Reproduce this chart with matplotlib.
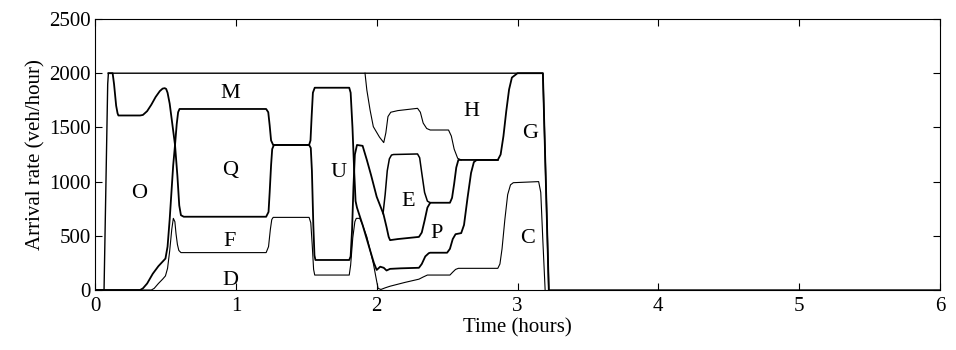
import numpy as np
import matplotlib
matplotlib.use("Agg")
from matplotlib import pyplot as plt

plt.rcParams['font.family'] = ['Liberation Serif', 'DejaVu Serif']

# boundary curves of the arrival rate plot (time in hours, rate in veh/hour)
t_total = [0, 0.064, 0.09, 0.095, 3.18, 3.222, 6]
v_total = [0, 0, 1900, 2000, 2000, 0, 0]

t_a = [0.095, 0.125, 0.135, 0.15, 0.16, 0.166, 0.32, 0.34, 0.37, 0.40, 0.43, 0.46,
       0.48, 0.495, 0.505, 0.515, 0.53, 0.545, 0.568, 0.585, 0.598, 0.61, 0.63,
       1.215, 1.232, 1.24, 1.25, 1.258, 1.27, 1.52, 1.532, 1.54, 1.55, 1.558, 1.565,
       1.805, 1.815, 1.825, 1.835, 1.845, 1.86, 1.9, 1.93, 1.96, 2.0, 2.03, 2.048,
       2.07, 2.085, 2.095, 2.15, 2.30, 2.32, 2.34, 2.36, 2.38, 2.52, 2.535, 2.55,
       2.565, 2.58, 2.86, 2.88, 2.9, 2.92, 2.94, 2.96, 3.0, 3.18, 3.222]
v_a = [2000, 2000, 1900, 1700, 1630, 1610, 1610, 1615, 1650, 1710, 1780, 1835,
       1858, 1862, 1855, 1820, 1720, 1570, 1338, 1050, 780, 690, 676,
       676, 720, 900, 1150, 1300, 1338, 1338, 1310, 1100, 600, 320, 277,
       277, 310, 550, 950, 1250, 1338, 1330, 1200, 1060, 860, 760, 700,
       580, 490, 460, 470, 490, 530, 640, 760, 805, 805, 850, 980,
       1130, 1200, 1200, 1250, 1420, 1650, 1850, 1960, 2000, 2000, 0]

t_b = [0, 0.32, 0.34, 0.37, 0.41, 0.45, 0.48, 0.50, 0.515, 0.53, 0.545, 0.555,
       0.568, 0.58, 0.59, 0.60, 1.215, 1.23, 1.24, 1.25, 1.265, 1.52, 1.53, 1.538,
       1.547, 1.56, 1.805, 1.815, 1.828, 1.84, 1.85, 1.86, 1.9, 1.95, 1.98, 2.0,
       2.025, 2.05, 2.07, 2.095, 2.17, 2.30, 2.32, 2.345, 2.37, 2.38, 2.50, 2.52,
       2.54, 2.56, 2.60, 2.62, 2.645, 2.67, 2.69, 2.71, 2.86]
v_b = [0, 0, 15, 60, 150, 220, 262, 290, 400, 650, 950, 1150,
       1338, 1530, 1640, 1670, 1670, 1640, 1520, 1380, 1338, 1338, 1380, 1600,
       1820, 1866, 1866, 1820, 1500, 1100, 820, 760, 600, 380, 250, 185,
       215, 205, 180, 195, 200, 205, 240, 310, 340, 344, 344, 380,
       470, 515, 525, 600, 850, 1080, 1180, 1200, 1200]

t_c = [0, 0.40, 0.42, 0.45, 0.48, 0.50, 0.515, 0.53, 0.545, 0.556, 0.567, 0.575,
       0.585, 0.595, 0.61, 1.215, 1.232, 1.245, 1.255, 1.265, 1.52, 1.532, 1.542,
       1.552, 1.56, 1.805, 1.815, 1.83, 1.845, 1.855, 1.88, 1.9, 1.93, 1.976, 2.0,
       2.01, 2.03, 2.06, 2.095, 2.2, 2.30, 2.33, 2.36, 2.52, 2.54, 2.56, 2.58, 2.86,
       2.875, 2.89, 2.91, 2.93, 2.95, 2.97, 3.15, 3.165, 3.18, 3.196]
v_c = [0, 0, 15, 60, 100, 130, 200, 360, 560, 661, 630, 520,
       420, 365, 345, 345, 400, 560, 650, 670, 670, 620, 420,
       190, 138, 138, 230, 480, 630, 661, 661, 600, 490, 246, 80,
       15, 5, 20, 35, 70, 100, 120, 138, 138, 165, 190, 200, 200,
       240, 380, 650, 880, 970, 990, 1000, 900, 450, 0]

t_d = [1.917, 1.93, 1.953, 1.976, 2.02, 2.05, 2.065, 2.08, 2.10, 2.15, 2.29, 2.31,
       2.33, 2.355, 2.38, 2.51, 2.53, 2.55, 2.575, 2.6]
v_d = [2000, 1845, 1660, 1507, 1410, 1360, 1450, 1600, 1640, 1655, 1676, 1640,
       1540, 1490, 1476, 1476, 1420, 1300, 1215, 1200]

t_e = [2.045, 2.06, 2.075, 2.09, 2.105, 2.12, 2.29, 2.305, 2.32, 2.34, 2.36, 2.38]
v_e = [705, 880, 1100, 1210, 1245, 1250, 1255, 1220, 1080, 900, 820, 805]

region_names = ['O', 'M', 'Q', 'F', 'D', 'U', 'H', 'G', 'E', 'P', 'C']
region_t = [0.315, 0.958, 0.958, 0.958, 0.958, 1.728, 2.675, 3.089, 2.225, 2.426, 3.071]
region_v = [892, 1815, 1107, 446, 92, 1085, 1645, 1446, 814, 523, 477]

fig = plt.figure(figsize=(9.56, 3.5), dpi=100)
ax = fig.add_axes([0.0994, 0.1714, 0.8839, 0.7743])

ax.plot(t_total, v_total, 'k', lw=1.0)
ax.plot(t_a, v_a, 'k', lw=1.3)
ax.plot(t_b, v_b, 'k', lw=1.3)
ax.plot(t_c, v_c, 'k', lw=0.8)
ax.plot(t_d, v_d, 'k', lw=0.8)
ax.plot(t_e, v_e, 'k', lw=1.1)

for name, tt, vv in zip(region_names, region_t, region_v):
    ax.text(tt, vv, name, ha='center', va='center', fontsize=16)

ax.set_xlim(0, 6)
ax.set_ylim(0, 2500)
ax.set_xticks(range(0, 7))
ax.set_yticks(range(0, 2501, 500))
ax.tick_params(direction='in', top=True, right=True, length=5, labelsize=15)
ax.tick_params(axis='x', pad=5)
ax.tick_params(axis='y', pad=3)
ax.set_xlabel('Time (hours)', fontsize=15, labelpad=2)
ax.set_ylabel('Arrival rate (veh/hour)', fontsize=15, labelpad=3)
for s in ax.spines.values():
    s.set_linewidth(0.8)

fig.savefig('out.png', dpi=100)
